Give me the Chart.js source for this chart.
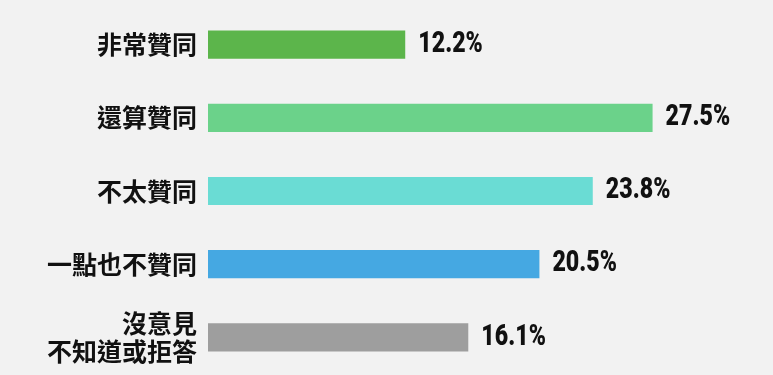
<!DOCTYPE html>
<html>
<head>
<meta charset="utf-8">
<script src="https://cdn.jsdelivr.net/npm/chart.js@4"></script>
<style>
  html, body { margin: 0; padding: 0; background: #f2f2f2; }
  #wrap { width: 773px; height: 375px; }
</style>
</head>
<body>
<div id="wrap"><canvas id="myChart"></canvas></div>
<script>
var labels = ["非常贊同", "還算贊同", "不太贊同", "一點也不贊同", ["沒意見", "不知道或拒答"]];
var values = [12.2, 27.5, 23.8, 20.5, 16.1];
var colors = ["#5cb54b", "#6bd28a", "#6adcd4", "#45a8e2", "#9e9e9e"];

var cjkFont = "'Noto Sans CJK TC', 'Noto Sans CJK SC', sans-serif";
var numFont = "'Roboto', sans-serif";

// draw the value text after each bar (squeezed a bit to look condensed)
var valueLabels = {
  id: "valueLabels",
  afterDatasetsDraw: function(chart) {
    var ctx = chart.ctx;
    var meta = chart.getDatasetMeta(0);
    meta.data.forEach(function(bar, i) {
      ctx.save();
      ctx.translate(bar.x + 13, bar.y);
      ctx.scale(0.8, 1);
      ctx.fillStyle = "#111";
      ctx.font = "900 29px " + numFont;
      ctx.textAlign = "left";
      ctx.textBaseline = "middle";
      ctx.fillText(values[i].toFixed(1) + "%", 0, 0);
      ctx.restore();
    });
  }
};

new Chart("myChart", {
  type: "bar",
  data: {
    labels: labels,
    datasets: [{
      data: values,
      backgroundColor: colors,
      borderWidth: 0,
      categoryPercentage: 1,
      barPercentage: 0.385
    }]
  },
  options: {
    indexAxis: "y",
    responsive: true,
    maintainAspectRatio: false,
    animation: false,
    layout: { padding: { top: 8, bottom: 1, left: 0, right: 80 } },
    plugins: {
      legend: { display: false },
      tooltip: { enabled: false }
    },
    scales: {
      x: {
        display: false,
        min: 0,
        max: 30
      },
      y: {
        grid: { display: false, drawTicks: false },
        border: { display: false },
        afterFit: function(scale) {
          scale.width = 208;
          scale.paddingTop = 0;
          scale.paddingBottom = 0;
        },
        ticks: {
          color: "#111",
          padding: 11,
          font: { family: cjkFont, size: 25, weight: "bold", lineHeight: 1.15 }
        }
      }
    }
  },
  plugins: [valueLabels]
});
</script>
</body>
</html>
